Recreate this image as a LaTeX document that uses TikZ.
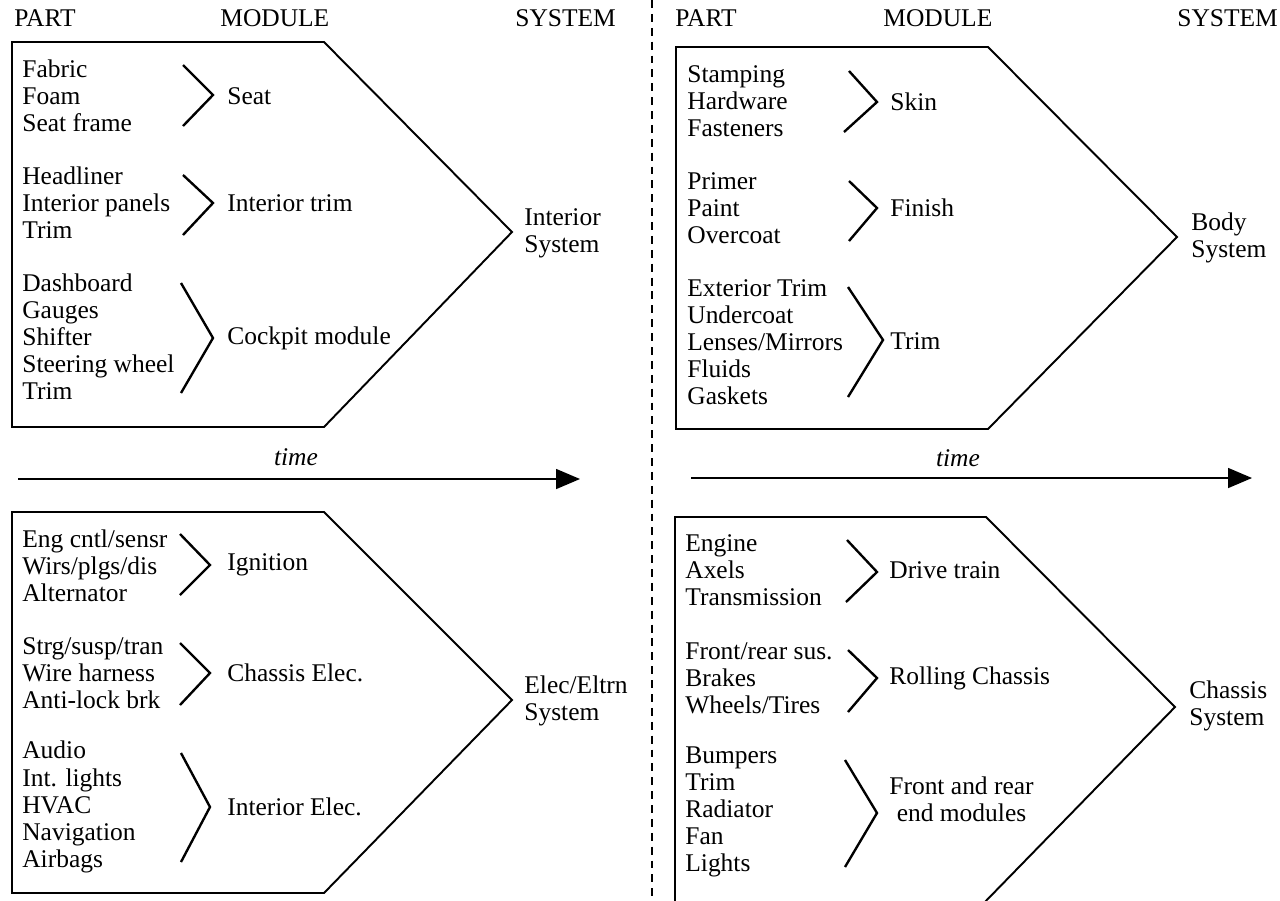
\documentclass[tikz,border=0pt]{standalone}
\usepackage{fontspec}
\setmainfont{Liberation Serif}
\usetikzlibrary{arrows.meta}

\begin{document}
\begin{tikzpicture}[
  x=0.02cm, y=-0.02cm, % one unit is one pixel of the layout, y runs downwards
  line join=miter,
  panel/.style={draw=black, line width=1.1pt}, % outline of the arrow shaped panels
  chevron/.style={draw=black, line width=1.35pt}, % the brackets that gather the parts
  label text/.style={inner sep=0pt, font=\fontsize{14.5}{15.4}\selectfont},
  header/.style={label text, anchor=west}, % PART / MODULE / SYSTEM
  part list/.style={label text, anchor=west, align=left}, % list of parts
  module/.style={label text, anchor=west, align=center}, % module name
  system/.style={label text, anchor=west, align=left}, % system name
  timeline/.style={-{Triangle[length=0.48cm,width=0.4cm]}, line width=0.9pt}, % the time arrow
  time label/.style={label text, font=\fontsize{14.5}{15.4}\selectfont\itshape},
  divider/.style={dash pattern=on 4.5pt off 3.4pt, line width=0.6pt} % the dashed split line
  ]

  \clip (0,0) rectangle (1280,900);
  \fill[white] (0,0) rectangle (1280,900);

  % dashed line between the two halves
  \coordinate (divtop) at (652,0);
  \coordinate (divbot) at (652,900);
  \draw[divider] (divtop) -- (divbot);

  % ---- interior (top left) ----
  \node[header] (partL) at (14,18) {PART};
  \node[header] (moduleL) at (220,18) {MODULE};
  \node[header] (systemL) at (515,18) {SYSTEM};

  \draw[panel] (12,42) -- (324,42) -- (512,232) -- (324,427) -- (12,427) -- cycle;

  \node[part list] (seatparts) at (22,96) {Fabric\\Foam\\Seat frame};
  \draw[chevron] (183,65) -- (213,95) -- (183,126);
  \node[module] (seat) at (227,96) {Seat};

  \node[part list] (trimparts) at (22,203) {Headliner\\Interior panels\\Trim};
  \draw[chevron] (183,175) -- (213,203) -- (183,235);
  \node[module] (inttrim) at (227,203) {Interior trim};

  \node[part list] (cockparts) at (22,337) {Dashboard\\Gauges\\Shifter\\Steering wheel\\Trim};
  \draw[chevron] (181,283) -- (213,338) -- (181,393);
  \node[module] (cockpit) at (227,338) {Cockpit module};

  \node[system] (interior) at (524,233) {Interior\\System};

  % ---- body (top right) ----
  \node[header] (partR) at (675,18) {PART};
  \node[header] (moduleR) at (883,18) {MODULE};
  \node[header] (systemR) at (1177,18) {SYSTEM};

  \draw[panel] (676,47) -- (988,47) -- (1177,237) -- (988,429) -- (676,429) -- cycle;

  \node[part list] (skinparts) at (687,101) {Stamping\\Hardware\\Fasteners};
  \draw[chevron] (849,71) -- (877,102) -- (844,132);
  \node[module] (skin) at (890,102) {Skin};

  \node[part list] (finishparts) at (687,208) {Primer\\Paint\\Overcoat};
  \draw[chevron] (849,181) -- (877,208) -- (849,241);
  \node[module] (finish) at (890,208) {Finish};

  \node[part list] (extparts) at (687,342) {Exterior Trim\\Undercoat\\Lenses/Mirrors\\Fluids\\Gaskets};
  \draw[chevron] (848,287) -- (883,340) -- (848,397);
  \node[module] (exttrim) at (890,341) {Trim};

  \node[system] (body) at (1191,238) {Body\\System};

  % ---- time arrows ----
  \coordinate (timeLs) at (18,479);
  \coordinate (timeLe) at (580,479);
  \draw[timeline] (timeLs) -- (timeLe);
  \node[time label] (timeL) at (296,457) {time};

  \coordinate (timeRs) at (691,478);
  \coordinate (timeRe) at (1252,478);
  \draw[timeline] (timeRs) -- (timeRe);
  \node[time label] (timeR) at (958,458) {time};

  % ---- electrical (bottom left) ----
  \draw[panel] (12,512) -- (324,512) -- (512,700) -- (324,893) -- (12,893) -- cycle;

  \node[part list] (ignparts) at (22,566) {Eng cntl/sensr\\Wirs/plgs/dis\\Alternator};
  \draw[chevron] (180,534) -- (210,565) -- (180,595);
  \node[module] (ignition) at (227,565) {Ignition};

  \node[part list] (chelparts) at (22,673) {Strg/susp/tran\\Wire harness\\Anti-lock brk};
  \draw[chevron] (180,643) -- (210,673) -- (180,705);
  \node[module] (chelec) at (227,673) {Chassis Elec.};

  \node[part list] (inelparts) at (22,807) {Audio\\Int. lights\\HVAC\\Navigation\\Airbags};
  \draw[chevron] (181,753) -- (210,807) -- (181,862);
  \node[module] (inelec) at (227,807) {Interior Elec.};

  \node[system] (elec) at (524,701) {Elec/Eltrn\\System};

  % ---- chassis (bottom right) ----
  \draw[panel] (675,517) -- (986,517) -- (1175,707) -- (980,907) -- (675,907) -- cycle;

  \node[part list] (driveparts) at (685,570) {Engine\\Axels\\Transmission};
  \draw[chevron] (847,540) -- (877,572) -- (846,602);
  \node[module] (drive) at (889,570) {Drive train};

  \node[part list] (rollparts) at (685,678) {Front/rear sus.\\Brakes\\Wheels/Tires};
  \draw[chevron] (848,650) -- (877,678) -- (848,712);
  \node[module] (rolling) at (889,678) {Rolling Chassis};

  \node[part list] (endparts) at (685,812) {Bumpers\\Trim\\Radiator\\Fan\\Lights};
  \draw[chevron] (845,760) -- (877,813) -- (845,867);
  \node[module] (endmod) at (889,799) {Front and rear\\end modules};

  \node[system] (chassis) at (1189,706) {Chassis\\System};
\end{tikzpicture}
\end{document}
